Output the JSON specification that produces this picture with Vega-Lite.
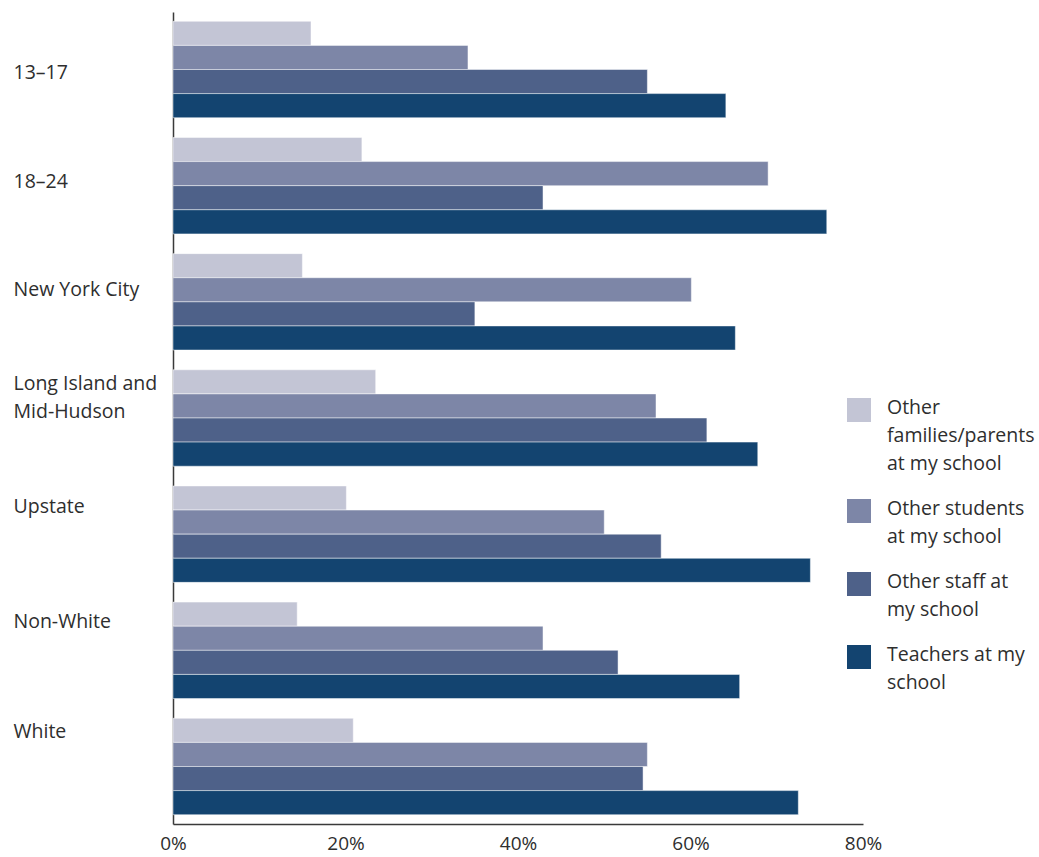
{
  "$schema": "https://vega.github.io/schema/vega-lite/v6.json",
  "width": 690,
  "height": 812,
  "autosize": "none",
  "padding": {"left": 173, "top": 12, "right": 176, "bottom": 33},
  "background": "white",
  "config": {"view": {"stroke": null}, "font": "Open Sans"},
  "data": {"values": [
    {"group": "13–17", "series": "Other families/parents at my school", "value": 0.160},
    {"group": "13–17", "series": "Other students at my school", "value": 0.342},
    {"group": "13–17", "series": "Other staff at my school", "value": 0.550},
    {"group": "13–17", "series": "Teachers at my school", "value": 0.641},
    {"group": "18–24", "series": "Other families/parents at my school", "value": 0.219},
    {"group": "18–24", "series": "Other students at my school", "value": 0.690},
    {"group": "18–24", "series": "Other staff at my school", "value": 0.429},
    {"group": "18–24", "series": "Teachers at my school", "value": 0.758},
    {"group": "New York City", "series": "Other families/parents at my school", "value": 0.150},
    {"group": "New York City", "series": "Other students at my school", "value": 0.601},
    {"group": "New York City", "series": "Other staff at my school", "value": 0.350},
    {"group": "New York City", "series": "Teachers at my school", "value": 0.652},
    {"group": "Long Island and Mid-Hudson", "series": "Other families/parents at my school", "value": 0.235},
    {"group": "Long Island and Mid-Hudson", "series": "Other students at my school", "value": 0.560},
    {"group": "Long Island and Mid-Hudson", "series": "Other staff at my school", "value": 0.619},
    {"group": "Long Island and Mid-Hudson", "series": "Teachers at my school", "value": 0.678},
    {"group": "Upstate", "series": "Other families/parents at my school", "value": 0.201},
    {"group": "Upstate", "series": "Other students at my school", "value": 0.500},
    {"group": "Upstate", "series": "Other staff at my school", "value": 0.566},
    {"group": "Upstate", "series": "Teachers at my school", "value": 0.739},
    {"group": "Non-White", "series": "Other families/parents at my school", "value": 0.144},
    {"group": "Non-White", "series": "Other students at my school", "value": 0.429},
    {"group": "Non-White", "series": "Other staff at my school", "value": 0.516},
    {"group": "Non-White", "series": "Teachers at my school", "value": 0.657},
    {"group": "White", "series": "Other families/parents at my school", "value": 0.209},
    {"group": "White", "series": "Other students at my school", "value": 0.550},
    {"group": "White", "series": "Other staff at my school", "value": 0.545},
    {"group": "White", "series": "Teachers at my school", "value": 0.725}
  ]},
  "mark": {"type": "bar", "stroke": "white", "strokeWidth": 0.6, "strokeOpacity": 0.8},
  "encoding": {
    "y": {
      "field": "group", "type": "nominal", "sort": null,
      "scale": {"paddingInner": 0.17, "paddingOuter": 0.08},
      "axis": {
        "title": null, "ticks": false, "domainColor": "#3a3a3a", "domainWidth": 1.5,
        "labelAlign": "left", "labelPadding": 160, "labelFontSize": 19.5, "labelColor": "#2e2e2e",
        "labelBaseline": "middle", "labelLimit": 200, "labelLineHeight": 28,
        "labelExpr": "datum.label == 'Long Island and Mid-Hudson' ? ['Long Island and', 'Mid-Hudson'] : datum.label",
        "labelOffset": {
          "condition": [
            {"test": "datum.value == '13–17'", "value": 3},
            {"test": "datum.value == '18–24'", "value": -4},
            {"test": "datum.value == 'New York City'", "value": -12},
            {"test": "datum.value == 'Long Island and Mid-Hudson'", "value": -34},
            {"test": "datum.value == 'Upstate'", "value": -27},
            {"test": "datum.value == 'Non-White'", "value": -28}
          ],
          "value": -34
        }
      }
    },
    "yOffset": {
      "field": "series", "type": "nominal",
      "sort": ["Other families/parents at my school", "Other students at my school", "Other staff at my school", "Teachers at my school"],
      "scale": {"paddingInner": 0, "paddingOuter": 0}
    },
    "x": {
      "field": "value", "type": "quantitative",
      "scale": {"domain": [0, 0.8], "nice": false},
      "axis": {
        "title": null, "format": "%", "values": [0, 0.2, 0.4, 0.6, 0.8], "grid": false, "ticks": false,
        "domainColor": "#3a3a3a", "domainWidth": 1.5, "labelFlush": false, "labelFontSize": 19,
        "labelColor": "#2e2e2e", "labelPadding": 10
      }
    },
    "color": {
      "field": "series", "type": "nominal",
      "scale": {
        "domain": ["Other families/parents at my school", "Other students at my school", "Other staff at my school", "Teachers at my school"],
        "range": ["#c3c5d5", "#7d86a7", "#4e6189", "#134470"]
      },
      "legend": {
        "title": null, "orient": "none", "legendX": 674, "legendY": 386,
        "symbolType": "square", "symbolSize": 576, "symbolStrokeWidth": 0, "symbolOpacity": 1,
        "labelFontSize": 19.5, "labelColor": "#2e2e2e", "labelOffset": 16, "labelLimit": 200,
        "labelBaseline": "top", "rowPadding": 25,
        "labelExpr": "datum.label == 'Other families/parents at my school' ? ['Other', 'families/parents', 'at my school'] : datum.label == 'Other students at my school' ? ['Other students', 'at my school'] : datum.label == 'Other staff at my school' ? ['Other staff at', 'my school'] : ['Teachers at my', 'school']",
        "encoding": {"labels": {"lineHeight": {"value": 28}, "dy": {"value": -11}}}
      }
    }
  }
}
